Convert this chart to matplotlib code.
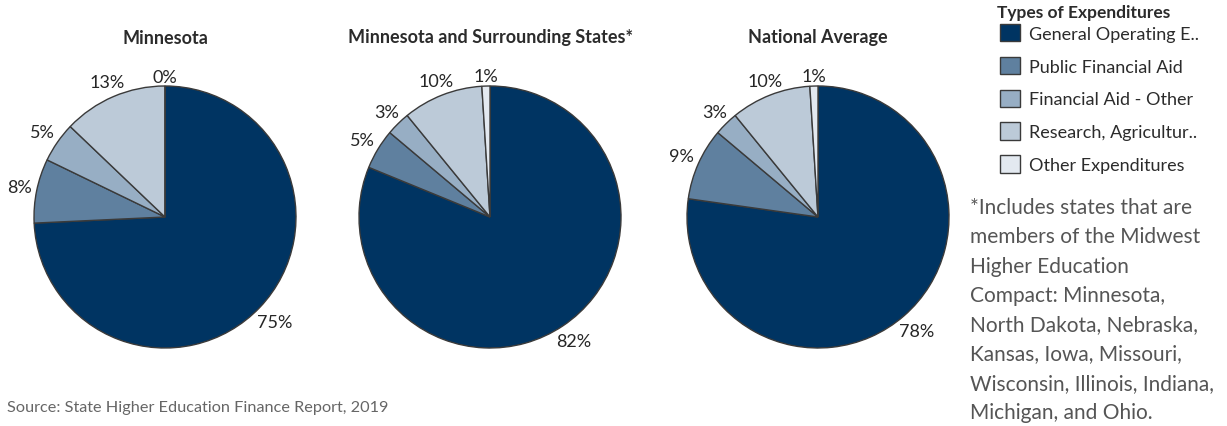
import numpy as np
import matplotlib.pyplot as plt
from matplotlib.patches import Patch

plt.rcParams['font.family'] = ['Lato', 'DejaVu Sans']

categories = ['General Operating E..', 'Public Financial Aid', 'Financial Aid - Other',
              'Research, Agricultur..', 'Other Expenditures']
titles = ['Minnesota', 'Minnesota and Surrounding States*', 'National Average']
minnesota = [75, 8, 5, 13, 0]
surrounding = [82, 5, 3, 10, 1]
national = [78, 9, 3, 10, 1]

colors = ['#003462', '#5f809f', '#97aec4', '#bccad8', '#e3e9f0']
edge = '#3a3a3a'

W, H = 1227, 427
fig = plt.figure(figsize=(W / 100, H / 100), dpi=100)

centers = [165, 490, 818]
r = 131
cy = 218
pies = []
for cx, title, vals in zip(centers, titles, [minnesota, surrounding, national]):
    ax = fig.add_axes([(cx - r) / W, (H - cy - r) / H, 2 * r / W, 2 * r / H])
    wedges, texts = ax.pie(vals, colors=colors, startangle=90, counterclock=False,
                           labels=[f'{v}%' for v in vals], labeldistance=1.1,
                           wedgeprops=dict(edgecolor=edge, linewidth=1.0),
                           textprops=dict(fontsize=13, color='#262626'))
    ax.set_xlim(-1, 1)
    ax.set_ylim(-1, 1)
    ax.set_aspect('equal')
    pies.append((wedges, texts))
    fig.text(cx / W, 1 - 38 / H, title, ha='center', va='center',
             fontsize=13, fontweight='bold', color='#2b2b2b')

# put each label just outside the rim, centred on the wedge's mid angle
fig.canvas.draw()
renderer = fig.canvas.get_renderer()
for wedges, texts in pies:
    for w, t in zip(wedges, texts):
        ang = np.deg2rad((w.theta1 + w.theta2) / 2)
        ux, uy = np.cos(ang), np.sin(ang)
        bb = t.get_window_extent(renderer)
        hw, hh = bb.width / 2 / r, bb.height / 2 / r
        d = 1 + 5 / r + hw * abs(ux) + 0.55 * hh * abs(uy)
        t.set_position((d * ux, d * uy))
        t.set_ha('center')
        t.set_va('center')

handles = [Patch(facecolor=c, edgecolor=edge, linewidth=1.0) for c in colors]
fig.text(997 / W, 1 - 13 / H, 'Types of Expenditures', ha='left', va='center',
         fontsize=12.5, fontweight='bold', color='#2b2b2b')
leg = fig.legend(handles, categories, loc='upper left', bbox_to_anchor=(1000 / W, 1 - 25 / H),
                 frameon=False, fontsize=13, handlelength=1.1, handleheight=1.1,
                 labelspacing=0.83, handletextpad=0.5, borderaxespad=0, borderpad=0)
for t in leg.get_texts():
    t.set_color('#2b2b2b')

note = ('*Includes states that are\nmembers of the Midwest\nHigher Education\n'
        'Compact: Minnesota,\nNorth Dakota, Nebraska,\nKansas, Iowa, Missouri,\n'
        'Wisconsin, Illinois, Indiana,\nMichigan, and Ohio.')
fig.text(970 / W, 1 - 198 / H, note, ha='left', va='top', fontsize=15,
         color='#555555', linespacing=1.58)

fig.text(7 / W, 1 - 408 / H, 'Source: State Higher Education Finance Report, 2019',
         ha='left', va='center', fontsize=11.7, color='#666666')

fig.savefig('out.png', dpi=100)
